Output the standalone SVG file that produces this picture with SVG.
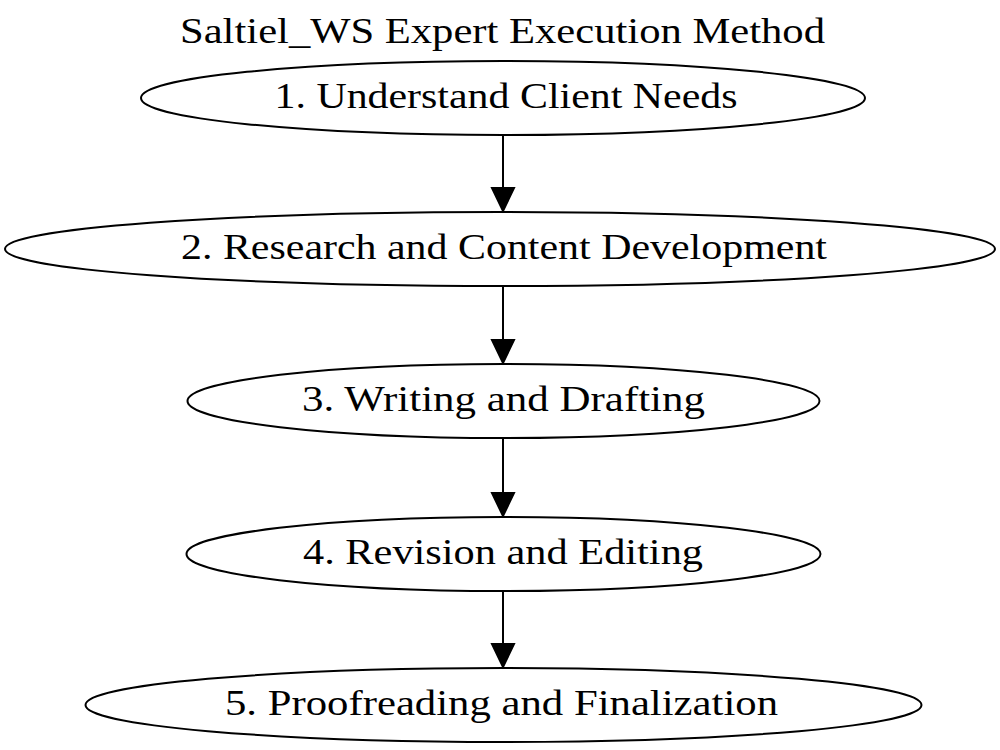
<svg xmlns="http://www.w3.org/2000/svg" width="1000" height="750" viewBox="0 0 1000 750">
<style>
.node ellipse{fill:none;stroke:#000;stroke-width:2}
text{font-family:"Liberation Serif","Times New Roman",serif;font-size:35px;fill:#000;text-anchor:middle}
.edge line{stroke:#000;stroke-width:2}
.edge polygon{fill:#000;stroke:#000;stroke-width:2}
</style>
<rect width="1000" height="750" fill="#fff"/>
<text id="title" x="502.5" y="43" textLength="645" lengthAdjust="spacingAndGlyphs">Saltiel_WS Expert Execution Method</text>
<g id="n1" class="node"><ellipse cx="503" cy="98" rx="362" ry="37"/><text x="506" y="108" textLength="463" lengthAdjust="spacingAndGlyphs">1. Understand Client Needs</text></g>
<g id="n2" class="node"><ellipse cx="500" cy="249" rx="495" ry="37"/><text x="504" y="259" textLength="646" lengthAdjust="spacingAndGlyphs">2. Research and Content Development</text></g>
<g id="n3" class="node"><ellipse cx="503.5" cy="401" rx="316" ry="37"/><text x="503.5" y="411" textLength="403" lengthAdjust="spacingAndGlyphs">3. Writing and Drafting</text></g>
<g id="n4" class="node"><ellipse cx="503.5" cy="554" rx="317" ry="37"/><text x="503" y="564" textLength="400" lengthAdjust="spacingAndGlyphs">4. Revision and Editing</text></g>
<g id="n5" class="node"><ellipse cx="503.5" cy="705" rx="418" ry="37"/><text x="501.5" y="715" textLength="553" lengthAdjust="spacingAndGlyphs">5. Proofreading and Finalization</text></g>
<g id="edges" class="edge">
<line x1="503" y1="135" x2="503" y2="188"/><polygon points="492,188 514,188 503,211"/>
<line x1="503" y1="286" x2="503" y2="340"/><polygon points="492,340 514,340 503,363"/>
<line x1="503" y1="438" x2="503" y2="493"/><polygon points="492,493 514,493 503,516"/>
<line x1="503" y1="591" x2="503" y2="644"/><polygon points="492,644 514,644 503,667"/>
</g>
</svg>
